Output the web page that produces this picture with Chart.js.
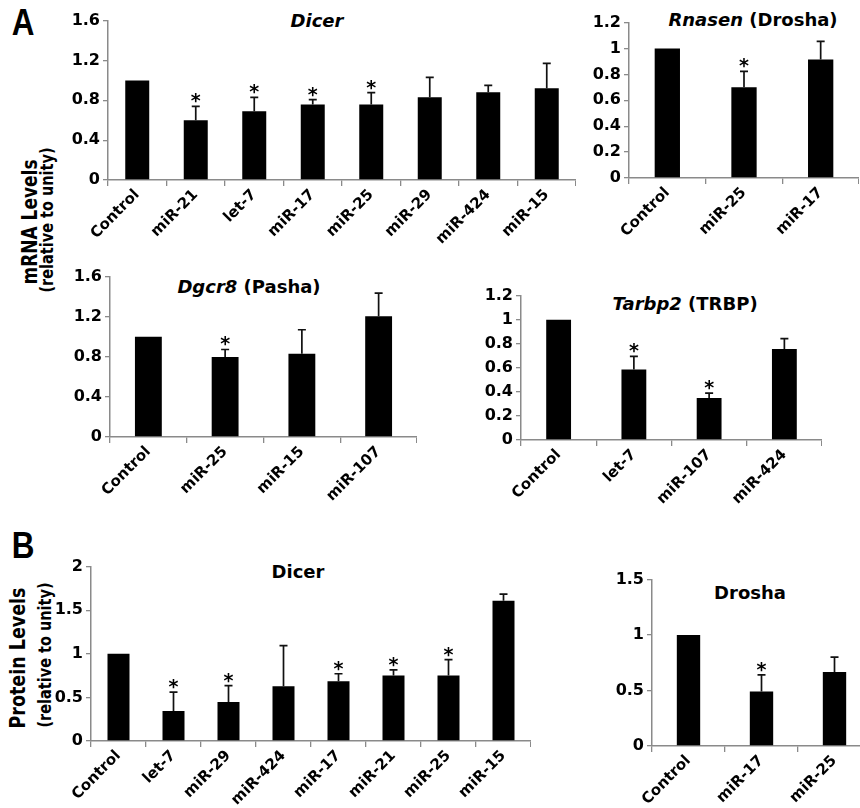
<!DOCTYPE html>
<html>
<head>
<meta charset="utf-8">
<script src="https://cdn.jsdelivr.net/npm/chart.js@4/dist/chart.umd.min.js"></script>
<style>
html,body{margin:0;padding:0;background:#fff;width:860px;height:808px;overflow:hidden;position:relative;font-family:'DejaVu Sans',sans-serif;color:#000;}
canvas{position:absolute;}
.t{position:absolute;white-space:nowrap;font-weight:bold;transform:translateX(-50%);font-size:18px;line-height:18px;}
.t i{font-style:italic;}
.yl{position:absolute;white-space:nowrap;font-weight:bold;transform:translate(-50%,-50%) rotate(-90deg) scaleY(1.2);line-height:1;}
.letter{position:absolute;font-family:'Liberation Sans',Arial,sans-serif;font-weight:bold;font-size:37px;line-height:37px;transform:translateX(-50%) scaleX(0.85);}
</style>
</head>
<body>
<div class="letter" style="left:23px;top:4px">A</div>
<div class="letter" style="left:23px;top:527px">B</div>

<div class="yl" style="left:30px;top:222px;font-size:17px">mRNA Levels</div>
<div class="yl" style="left:47px;top:220px;font-size:14.5px">(relative to unity)</div>
<div class="yl" style="left:19px;top:658px;font-size:17.5px">Protein Levels</div>
<div class="yl" style="left:45px;top:655px;font-size:14.5px">(relative to unity)</div>

<div class="t" style="left:317px;top:12px"><i>Dicer</i></div>
<div class="t" style="left:753px;top:11px"><i>Rnasen</i> (Drosha)</div>
<div class="t" style="left:249px;top:278px"><i>Dgcr8</i> (Pasha)</div>
<div class="t" style="left:685px;top:295px"><i>Tarbp2</i> (TRBP)</div>
<div class="t" style="left:298px;top:563px">Dicer</div>
<div class="t" style="left:750px;top:584px">Drosha</div>

<script>
// ---- Panel A: Dicer mRNA ----
const dicerA_labels = ['Control','miR-21','let-7','miR-17','miR-25','miR-29','miR-424','miR-15'];
const dicerA_values = [1.00, 0.60, 0.69, 0.757, 0.757, 0.83, 0.88, 0.92];
const dicerA_errors = [0, 0.14, 0.14, 0.05, 0.12, 0.20, 0.07, 0.25];
const dicerA_sig    = [false, true, true, true, true, false, false, false];
const dicerA_ticks  = [0, 0.4, 0.8, 1.2, 1.6];

// ---- Panel A: Rnasen (Drosha) mRNA ----
const rnasen_labels = ['Control','miR-25','miR-17'];
const rnasen_values = [1.00, 0.70, 0.915];
const rnasen_errors = [0, 0.124, 0.14];
const rnasen_sig    = [false, true, false];
const rnasen_ticks  = [0, 0.2, 0.4, 0.6, 0.8, 1, 1.2];

// ---- Panel A: Dgcr8 (Pasha) mRNA ----
const dgcr8_labels = ['Control','miR-25','miR-15','miR-107'];
const dgcr8_values = [1.00, 0.797, 0.83, 1.205];
const dgcr8_errors = [0, 0.076, 0.24, 0.23];
const dgcr8_sig    = [false, true, false, false];
const dgcr8_ticks  = [0, 0.4, 0.8, 1.2, 1.6];

// ---- Panel A: Tarbp2 (TRBP) mRNA ----
const tarbp2_labels = ['Control','let-7','miR-107','miR-424'];
const tarbp2_values = [1.00, 0.585, 0.35, 0.756];
const tarbp2_errors = [0, 0.11, 0.04, 0.086];
const tarbp2_sig    = [false, true, true, false];
const tarbp2_ticks  = [0, 0.2, 0.4, 0.6, 0.8, 1, 1.2];

// ---- Panel B: Dicer protein ----
const dicerB_labels = ['Control','let-7','miR-29','miR-424','miR-17','miR-21','miR-25','miR-15'];
const dicerB_values = [1.00, 0.343, 0.446, 0.629, 0.686, 0.751, 0.751, 1.608];
const dicerB_errors = [0, 0.217, 0.19, 0.465, 0.085, 0.065, 0.183, 0.076];
const dicerB_sig    = [false, true, true, false, true, true, true, false];
const dicerB_ticks  = [0, 0.5, 1, 1.5, 2];

// ---- Panel B: Drosha protein ----
const droshaB_labels = ['Control','miR-17','miR-25'];
const droshaB_values = [1.00, 0.492, 0.666];
const droshaB_errors = [0, 0.15, 0.135];
const droshaB_sig    = [false, true, false];
const droshaB_ticks  = [0, 0.5, 1, 1.5];

const FONT = "'DejaVu Sans', sans-serif";
const AXIS_COLOR = '#8a8a8a';

const errorBarPlugin = {
  id: 'errbars',
  afterDatasetsDraw(chart) {
    const ctx = chart.ctx;
    const yScale = chart.scales.y;
    const meta = chart.getDatasetMeta(0);
    const ds = chart.data.datasets[0];
    ctx.save();
    meta.data.forEach((bar, i) => {
      const v = ds.data[i];
      const e = ds.errors[i];
      let top = bar.y;
      if (e > 0) {
        top = yScale.getPixelForValue(v + e);
        ctx.strokeStyle = '#111';
        ctx.lineWidth = 1.7;
        ctx.beginPath();
        ctx.moveTo(bar.x, bar.y);
        ctx.lineTo(bar.x, top);
        ctx.moveTo(bar.x - 4, top);
        ctx.lineTo(bar.x + 4, top);
        ctx.stroke();
      }
      if (ds.sig[i]) {
        ctx.font = 'bold 19px ' + FONT;
        ctx.fillStyle = '#000';
        ctx.textAlign = 'center';
        ctx.textBaseline = 'alphabetic';
        const m = ctx.measureText('*');
        const desc = m.actualBoundingBoxDescent || -8;
        ctx.fillText('*', bar.x, top - 3 - desc);
      }
    });
    ctx.restore();
  }
};

function makePanel(p) {
  const yw = 45, padTop = 12;
  const w = yw + (p.right - p.left);
  const h = padTop + (p.bottom - p.top) + p.xh;
  const canvas = document.createElement('canvas');
  canvas.width = w; canvas.height = h;
  canvas.style.left = (p.left - yw) + 'px';
  canvas.style.top = (p.top - padTop) + 'px';
  canvas.style.width = w + 'px';
  canvas.style.height = h + 'px';
  document.body.appendChild(canvas);
  const ticks = p.ticks;
  new Chart(canvas, {
    type: 'bar',
    data: {
      labels: p.labels,
      datasets: [{
        data: p.values,
        errors: p.errors,
        sig: p.sig,
        backgroundColor: '#000',
        borderWidth: 0,
        barPercentage: p.barPct,
        categoryPercentage: 1
      }]
    },
    options: {
      responsive: false,
      animation: false,
      devicePixelRatio: 1,
      layout: { padding: { top: padTop, left: 0, right: 0, bottom: 0 } },
      plugins: { legend: { display: false }, tooltip: { enabled: false }, title: { display: false } },
      scales: {
        x: {
          offset: true,
          grid: { display: true, offset: true, drawOnChartArea: false, drawTicks: true, tickLength: 6, color: AXIS_COLOR, lineWidth: 1.3 },
          border: { display: true, color: AXIS_COLOR, width: 1.5 },
          ticks: { color: '#000', font: { family: FONT, weight: 'bold', size: 15 }, minRotation: 45, maxRotation: 45, autoSkip: false, padding: 0 },
          afterFit: s => { s.height = p.xh; }
        },
        y: {
          min: ticks[0],
          max: ticks[ticks.length - 1],
          afterBuildTicks: s => { s.ticks = ticks.map(v => ({ value: v })); },
          grid: { display: true, drawOnChartArea: false, drawTicks: true, tickLength: 5, color: AXIS_COLOR, lineWidth: 1.3 },
          border: { display: true, color: AXIS_COLOR, width: 1.5 },
          ticks: { color: '#000', font: { family: FONT, weight: 'bold', size: 16 }, padding: 3,
                   callback: v => String(+Number(v).toFixed(2)) },
          afterFit: s => { s.width = yw; }
        }
      }
    },
    plugins: [errorBarPlugin]
  });
}

makePanel({ labels: dicerA_labels, values: dicerA_values, errors: dicerA_errors, sig: dicerA_sig, ticks: dicerA_ticks,
            left: 108, right: 576, top: 20, bottom: 180, xh: 70, barPct: 0.41 });
makePanel({ labels: rnasen_labels, values: rnasen_values, errors: rnasen_errors, sig: rnasen_sig, ticks: rnasen_ticks,
            left: 629, right: 859, top: 22, bottom: 178, xh: 70, barPct: 0.33 });
makePanel({ labels: dgcr8_labels, values: dgcr8_values, errors: dgcr8_errors, sig: dgcr8_sig, ticks: dgcr8_ticks,
            left: 110, right: 417, top: 276, bottom: 437, xh: 70, barPct: 0.35 });
makePanel({ labels: tarbp2_labels, values: tarbp2_values, errors: tarbp2_errors, sig: tarbp2_sig, ticks: tarbp2_ticks,
            left: 521, right: 822, top: 295, bottom: 440, xh: 70, barPct: 0.33 });
makePanel({ labels: dicerB_labels, values: dicerB_values, errors: dicerB_errors, sig: dicerB_sig, ticks: dicerB_ticks,
            left: 91, right: 531, top: 566, bottom: 741, xh: 67, barPct: 0.40 });
makePanel({ labels: droshaB_labels, values: droshaB_values, errors: droshaB_errors, sig: droshaB_sig, ticks: droshaB_ticks,
            left: 652, right: 871, top: 579, bottom: 746, xh: 62, barPct: 0.32 });
</script>
</body>
</html>
